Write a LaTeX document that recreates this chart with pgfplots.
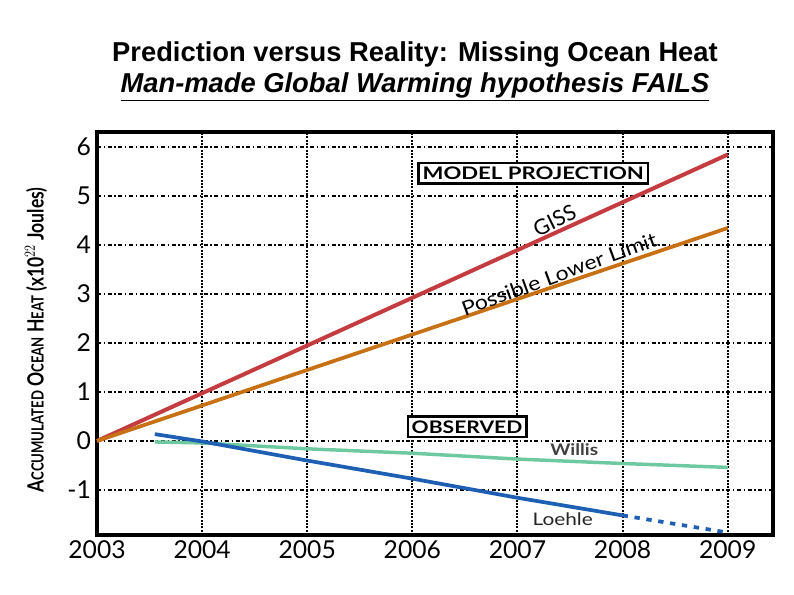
\documentclass[border=0pt]{standalone}
\usepackage{pgfplots}
\pgfplotsset{compat=1.18}
\usepackage{fontspec}
\setmainfont{Lato}
\newfontfamily\titlefont{Liberation Sans}
\definecolor{giss}{RGB}{196,60,64}
\definecolor{lower}{RGB}{200,112,20}
\definecolor{willis}{RGB}{110,200,160}
\definecolor{loehle}{RGB}{30,95,180}
\begin{document}
\begin{tikzpicture}[x=1pt,y=1pt]
\useasboundingbox (0,0) rectangle (595.5,446.25);
\node[font=\titlefont\bfseries\fontsize{20.5}{24}\selectfont] at (311.25,405) {Prediction versus Reality: Missing Ocean Heat};
\node[font=\titlefont\bfseries\itshape\fontsize{20.5}{24}\selectfont] at (311.25,381) {\underline{Man-made Global Warming hypothesis FAILS}};
\node[rotate=90,font=\bfseries] at (27,191.25) {\resizebox{229pt}{14pt}{\fontsize{16}{18}\selectfont A{\fontsize{12}{14}\selectfont CCUMULATED} O{\fontsize{12}{14}\selectfont CEAN} H{\fontsize{12}{14}\selectfont EAT} (x10$^{22}$ Joules)}};
\begin{axis}[
  at={(72.75pt,45pt)}, anchor=south west,
  scale only axis, width=507pt, height=302.25pt,
  xmin=2003, xmax=2009.43, ymin=-1.92, ymax=6.31,
  xtick={2003,...,2009}, ytick={-1,...,6},
  major tick length=0pt,
  axis line style={line width=3pt, black},
  /pgf/number format/assume math mode=true,
  xticklabel style={/pgf/number format/1000 sep={}, font=\fontsize{18.5}{20}\selectfont, yshift=-1pt},
  yticklabel style={font=\fontsize{18.5}{20}\selectfont, xshift=-1pt},
  xmajorgrids, ymajorgrids,
  x grid style={black, line width=1.5pt, dash pattern=on 1.5pt off 1pt},
  y grid style={black, line width=1.2pt, dash pattern=on 3pt off 2pt on 1pt off 2pt},
  clip=false,
]
\addplot[giss, line width=3pt] coordinates {(2003,0) (2009,5.85)};
\addplot[lower, line width=2.8pt] coordinates {(2003,0) (2009,4.35)};
\addplot[willis, line width=2.6pt] coordinates {(2003.55,-0.02) (2004,-0.04) (2005,-0.16) (2006,-0.25) (2007,-0.37) (2008,-0.46) (2009,-0.54)};
\addplot[loehle, line width=2.8pt] coordinates {(2003.55,0.14) (2004,-0.01) (2005,-0.40) (2006,-0.77) (2007,-1.16) (2008,-1.52)};
\addplot[loehle, line width=2.8pt, dash pattern=on 4pt off 5pt] coordinates {(2008,-1.52) (2009,-1.87)};
\node[draw=black, line width=1.8pt, fill=white, inner sep=3pt, font=\bfseries] at (axis cs:2007.15,5.47) {\resizebox{166pt}{9.5pt}{MODEL PROJECTION}};
\node[draw=black, line width=1.8pt, fill=white, inner sep=3pt, font=\bfseries] at (axis cs:2006.52,0.29) {\resizebox{83pt}{9.5pt}{OBSERVED}};
\node[rotate=26, anchor=south, inner sep=2.5pt, font=\fontsize{16}{18}\selectfont] at (axis cs:2007.4,4.29) {GISS};
\node[rotate=20, anchor=south, inner sep=2pt, font=\fontsize{15}{18}\selectfont] at (axis cs:2007.43,3.21) {\scalebox{1.15}[1]{Possible Lower Limit}};
\node[font=\bfseries\fontsize{12}{14}\selectfont, black!75] at (axis cs:2007.54,-0.18) {\scalebox{1.2}[1]{Willis}};
\node[font=\fontsize{13}{15}\selectfont, black!85] at (axis cs:2007.43,-1.59) {\scalebox{1.2}[1]{Loehle}};
\end{axis}
\end{tikzpicture}
\end{document}
